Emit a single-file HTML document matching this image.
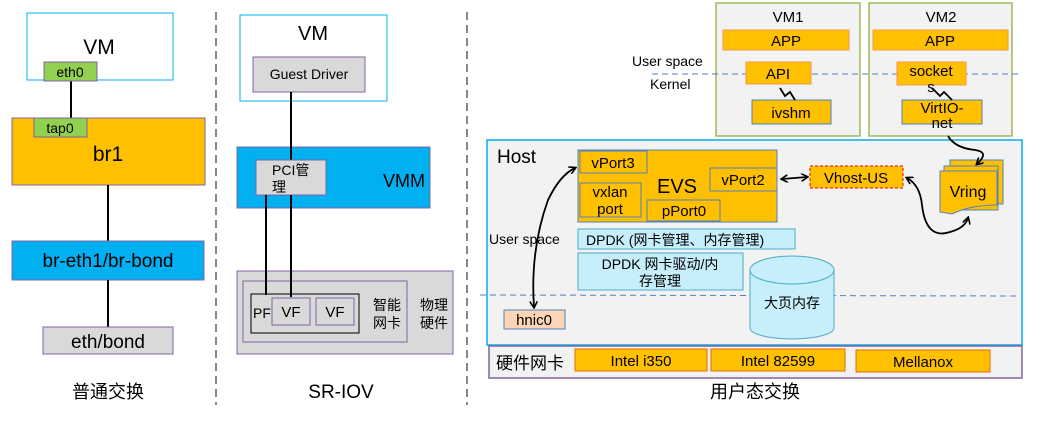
<!DOCTYPE html>
<html><head><meta charset="utf-8"><style>
html,body{margin:0;padding:0;background:#fff;}
svg{display:block;font-family:"Liberation Sans","Noto Sans CJK SC",sans-serif;}
</style></head><body>
<svg width="1047" height="430" viewBox="0 0 1047 430" xmlns="http://www.w3.org/2000/svg">
<defs>
<marker id="ah" markerWidth="8" markerHeight="8" refX="6" refY="4" orient="auto-start-reverse" markerUnits="userSpaceOnUse"><path d="M0,0 L7,4 L0,8" fill="none" stroke="#000" stroke-width="1.6"/></marker>
</defs>
<line x1="216" y1="12" x2="216" y2="405" stroke="#888" stroke-width="2" stroke-dasharray="8,5"/>
<line x1="467" y1="12" x2="467" y2="405" stroke="#888" stroke-width="2" stroke-dasharray="8,5"/>

<rect x="27" y="13" width="146" height="67" fill="#fff" stroke="#00b0f0"/>
<text x="99" y="54" font-size="21" text-anchor="middle">VM</text>
<line x1="71" y1="81" x2="71" y2="118" stroke="#000" stroke-width="2"/>
<rect x="12" y="118" width="193" height="67" fill="#ffc000" stroke="#8064a2"/>
<rect x="44" y="62" width="53" height="19" fill="#92d050" stroke="#8064a2"/>
<text x="70" y="77" font-size="14" text-anchor="middle">eth0</text>
<rect x="34" y="118" width="53" height="19" fill="#92d050" stroke="#8064a2"/>
<text x="60" y="133" font-size="14" text-anchor="middle">tap0</text>
<text x="108" y="161" font-size="21" text-anchor="middle">br1</text>
<line x1="108" y1="185" x2="108" y2="241" stroke="#000" stroke-width="2"/>
<rect x="12" y="241" width="192" height="39" fill="#00b0f0" stroke="#8064a2"/>
<text x="108" y="267" font-size="19" text-anchor="middle">br-eth1/br-bond</text>
<line x1="108" y1="280" x2="108" y2="327" stroke="#000" stroke-width="2"/>
<rect x="43" y="327" width="130" height="27" fill="#d9d9d9" stroke="#8064a2"/>
<text x="108" y="348" font-size="19" text-anchor="middle">eth/bond</text>
<text x="108" y="398" font-size="18" text-anchor="middle">普通交换</text>

<rect x="240" y="15" width="147" height="86" fill="#fff" stroke="#00b0f0"/>
<text x="313" y="40" font-size="20" text-anchor="middle">VM</text>
<rect x="253" y="57" width="112" height="35" fill="#d9d9d9" stroke="#8064a2"/>
<text x="309" y="79" font-size="14" text-anchor="middle">Guest Driver</text>
<rect x="237" y="147" width="193" height="61" fill="#00b0f0" stroke="#8064a2"/>
<text x="404" y="187" font-size="18" text-anchor="middle">VMM</text>
<line x1="291" y1="92" x2="291" y2="160" stroke="#000" stroke-width="2"/>
<rect x="256" y="160" width="70" height="35" fill="#d9d9d9" stroke="#8064a2"/>
<text x="272" y="175" font-size="14">PCI管</text>
<text x="272" y="192" font-size="14">理</text>
<rect x="237" y="271" width="216" height="83" fill="#d9d9d9" stroke="#8064a2"/>
<rect x="243" y="281" width="164" height="61" fill="#d9d9d9" stroke="#8064a2"/>
<rect x="251" y="294" width="108" height="39" fill="none" stroke="#000"/>
<line x1="266" y1="195" x2="266" y2="295" stroke="#000" stroke-width="2"/>
<line x1="291" y1="195" x2="291" y2="297" stroke="#000" stroke-width="2"/>
<text x="253" y="318" font-size="14">PF</text>
<rect x="272" y="298" width="38" height="27" fill="#d9d9d9" stroke="#8064a2"/>
<text x="291" y="317" font-size="15" text-anchor="middle">VF</text>
<rect x="316" y="298" width="38" height="27" fill="#d9d9d9" stroke="#8064a2"/>
<text x="335" y="317" font-size="15" text-anchor="middle">VF</text>
<text x="387" y="310" font-size="14" text-anchor="middle">智能</text>
<text x="387" y="328" font-size="14" text-anchor="middle">网卡</text>
<text x="434" y="310" font-size="14" text-anchor="middle">物理</text>
<text x="434" y="328" font-size="14" text-anchor="middle">硬件</text>
<text x="341" y="398" font-size="19" text-anchor="middle">SR-IOV</text>

<rect x="716" y="3" width="144" height="133" fill="#f2f2f2" stroke="#9bbb59" stroke-width="1.5"/>
<rect x="869" y="3" width="143" height="133" fill="#f2f2f2" stroke="#9bbb59" stroke-width="1.5"/>
<text x="788" y="22" font-size="15" text-anchor="middle">VM1</text>
<text x="941" y="22" font-size="15" text-anchor="middle">VM2</text>
<rect x="723" y="30" width="126" height="20" fill="#ffc000" stroke="#f79646"/>
<text x="786" y="46" font-size="15" text-anchor="middle">APP</text>
<rect x="873" y="30" width="135" height="20" fill="#ffc000" stroke="#f79646"/>
<text x="940" y="46" font-size="15" text-anchor="middle">APP</text>
<line x1="652" y1="74" x2="1020" y2="74" stroke="#4f81bd" stroke-dasharray="6,4"/>
<text x="632" y="66" font-size="14">User space</text>
<text x="650" y="89" font-size="14">Kernel</text>
<rect x="746" y="62" width="65" height="22" fill="#ffc000" stroke="#f79646"/>
<text x="778" y="79" font-size="15" text-anchor="middle">API</text>
<rect x="752" y="100" width="79" height="24" fill="#ffc000" stroke="#4f81bd"/>
<text x="791" y="118" font-size="15" text-anchor="middle">ivshm</text>
<path d="M780,88 L785,96 L790,92 L795,100" fill="none" stroke="#000" stroke-width="1.8"/>
<rect x="897" y="62" width="69" height="23" fill="#ffc000" stroke="#f79646"/>
<text x="931" y="76" font-size="15" text-anchor="middle">socket</text>
<text x="931" y="92" font-size="15" text-anchor="middle">s</text>
<rect x="902" y="100" width="80" height="24" fill="#ffc000" stroke="#4f81bd"/>
<text x="942" y="113" font-size="15" text-anchor="middle">VirtIO-</text>
<text x="942" y="128" font-size="15" text-anchor="middle">net</text>
<path d="M932,88 L940,96 L944,92 L952,100" fill="none" stroke="#000" stroke-width="1.8"/>

<rect x="487" y="140" width="535" height="205" fill="#f2f2f2" stroke="#00b0f0" stroke-width="1.5"/>
<text x="497" y="163" font-size="19">Host</text>
<rect x="578" y="150" width="199" height="72" fill="#ffc000" stroke="#4f81bd"/>
<rect x="580" y="151" width="67" height="22" fill="#ffc000" stroke="#4f81bd"/>
<text x="613" y="168" font-size="15" text-anchor="middle">vPort3</text>
<rect x="580" y="183" width="61" height="34" fill="#ffc000" stroke="#4f81bd"/>
<text x="610" y="197" font-size="15" text-anchor="middle">vxlan</text>
<text x="610" y="214" font-size="15" text-anchor="middle">port</text>
<rect x="647" y="200" width="73" height="21" fill="#ffc000" stroke="#4f81bd"/>
<text x="684" y="216" font-size="15" text-anchor="middle">pPort0</text>
<rect x="710" y="168" width="67" height="23" fill="#ffc000" stroke="#4f81bd"/>
<text x="743" y="185" font-size="15" text-anchor="middle">vPort2</text>
<text x="677" y="193" font-size="20" text-anchor="middle">EVS</text>
<rect x="810" y="166" width="93" height="22" fill="#ffc000" stroke="#e00" stroke-dasharray="3,2"/>
<text x="856" y="183" font-size="15" text-anchor="middle">Vhost-US</text>
<line x1="782" y1="179" x2="807" y2="177" stroke="#000" stroke-width="1.8" marker-start="url(#ah)" marker-end="url(#ah)"/>
<rect x="950" y="160" width="53" height="44" fill="#ffc000" stroke="#4f81bd"/>
<rect x="944" y="166" width="54" height="44" fill="#ffc000" stroke="#4f81bd"/>
<path d="M940,171 L997,171 L997,205 Q970,205 952,214 L940,212 Z" fill="#ffc000" stroke="#4f81bd"/>
<text x="968" y="197" font-size="16" text-anchor="middle">Vring</text>
<path d="M948,136 Q955,148 975,150 Q990,152 977,164" fill="none" stroke="#000" stroke-width="1.8" marker-end="url(#ah)"/>
<path d="M907,178 Q920,185 922,205 Q926,240 950,232 Q965,228 968,218" fill="none" stroke="#000" stroke-width="1.8" marker-start="url(#ah)" marker-end="url(#ah)"/>
<rect x="578" y="229" width="217" height="20" fill="#c6eefb" stroke="#4bacc6"/>
<text x="586" y="245" font-size="14">DPDK (网卡管理、内存管理)</text>
<rect x="578" y="253" width="165" height="37" fill="#c6eefb" stroke="#4bacc6"/>
<text x="660" y="269" font-size="14" text-anchor="middle">DPDK  网卡驱动/内</text>
<text x="660" y="286" font-size="14" text-anchor="middle">存管理</text>
<line x1="480" y1="295" x2="1020" y2="296" stroke="#4f81bd" stroke-dasharray="6,4"/>
<path d="M750,270 L750,328 A42,11 0 0 0 834,328 L834,270" fill="#c6eefb" stroke="#4bacc6"/>
<ellipse cx="792" cy="270" rx="42" ry="14" fill="#c6eefb" stroke="#4bacc6"/>
<text x="792" y="308" font-size="14" text-anchor="middle">大页内存</text>
<text x="489" y="244" font-size="14">User space</text>
<path d="M534,307 Q530,250 548,200 Q560,175 575,168" fill="none" stroke="#000" stroke-width="1.8" marker-start="url(#ah)" marker-end="url(#ah)"/>
<rect x="504" y="310" width="61" height="19" fill="#fbd5b5" stroke="#4f81bd"/>
<text x="534" y="325" font-size="15" text-anchor="middle">hnic0</text>

<rect x="489" y="346" width="533" height="32" fill="#f2f2f2" stroke="#8064a2" stroke-width="1.5"/>
<text x="496" y="369" font-size="17">硬件网卡</text>
<rect x="575" y="349" width="132" height="22" fill="#ffc000" stroke="#e46c0a"/>
<text x="641" y="366" font-size="15" text-anchor="middle">Intel i350</text>
<rect x="711" y="349" width="134" height="22" fill="#ffc000" stroke="#e46c0a"/>
<text x="778" y="366" font-size="15" text-anchor="middle">Intel 82599</text>
<rect x="856" y="350" width="134" height="22" fill="#ffc000" stroke="#e46c0a"/>
<text x="923" y="367" font-size="15" text-anchor="middle">Mellanox</text>
<text x="755" y="398" font-size="18" text-anchor="middle">用户态交换</text>
</svg>
</body></html>
